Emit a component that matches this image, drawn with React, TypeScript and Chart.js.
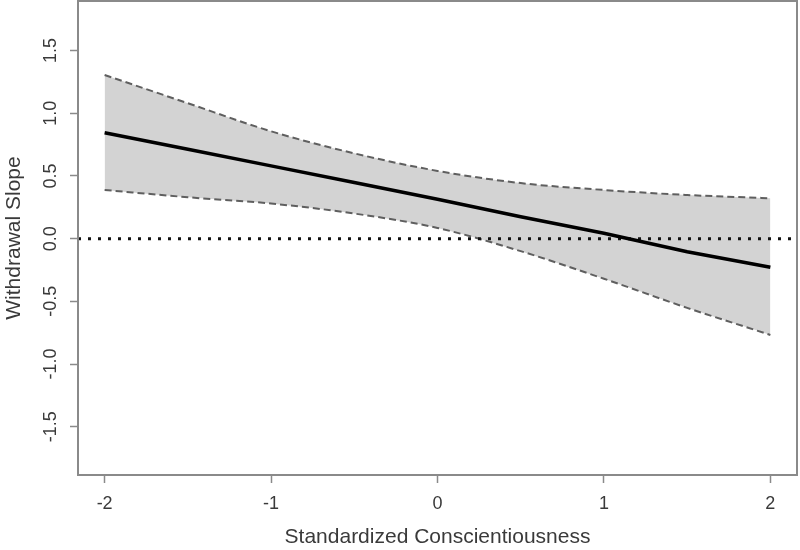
import React, { useEffect, useRef } from "react";
import { Chart, registerables } from "chart.js";

Chart.register(...registerables);

// Data
const xValues = [-2, -1.5, -1, -0.5, 0, 0.5, 1, 1.5, 2];
const slopeValues = [0.845, 0.713, 0.58, 0.447, 0.314, 0.175, 0.043, -0.104, -0.228];
const upperValues = [1.305, 1.08, 0.856, 0.68, 0.54, 0.443, 0.388, 0.348, 0.322];
const lowerValues = [0.388, 0.33, 0.28, 0.2, 0.085, -0.1, -0.32, -0.552, -0.768];
const zeroLineX = [-2.16, 2.16];
const zeroLineY = [0, 0];
const xTicks = [-2, -1, 0, 1, 2];
const yTicks = [-1.5, -1.0, -0.5, 0.0, 0.5, 1.0, 1.5];
const xTitle = "Standardized Conscientiousness";
const yTitle = "Withdrawal Slope";

const pts = (xs: number[], ys: number[]) => xs.map((x, i) => ({ x, y: ys[i] }));

const FONT = "'Liberation Sans', Arial, sans-serif";
const TXT = "#3a3a3a";
const FRAME = "#8a8a8a";

export default function App() {
  const ref = useRef<HTMLCanvasElement | null>(null);

  useEffect(() => {
    if (!ref.current) return;
    const boxPlugin = {
      id: "rbox",
      afterDraw(chart: any) {
        const { ctx, chartArea } = chart;
        ctx.save();
        ctx.strokeStyle = FRAME;
        ctx.lineWidth = 2;
        ctx.strokeRect(chartArea.left, chartArea.top, chartArea.right - chartArea.left, chartArea.bottom - chartArea.top);
        // rotated y tick labels
        const ys = chart.scales.y;
        ctx.fillStyle = TXT;
        ctx.font = `18px ${FONT}`;
        ctx.textAlign = "center";
        ctx.textBaseline = "middle";
        yTicks.forEach((v) => {
          const py = ys.getPixelForValue(v);
          ctx.save();
          ctx.translate(51, py);
          ctx.rotate(-Math.PI / 2);
          ctx.fillText(v.toFixed(1), 0, 0);
          ctx.restore();
        });
        ctx.restore();
      },
    };

    const chart = new Chart(ref.current, {
      type: "line",
      data: {
        datasets: [
          {
            label: "upper",
            data: pts(xValues, upperValues),
            borderColor: "#5f5f5f",
            borderWidth: 2,
            borderDash: [7, 4],
            backgroundColor: "#d3d3d3",
            fill: "+1",
            pointRadius: 0,
            cubicInterpolationMode: "monotone",
            order: 3,
          },
          {
            label: "lower",
            data: pts(xValues, lowerValues),
            borderColor: "#5f5f5f",
            borderWidth: 2,
            borderDash: [7, 4],
            fill: false,
            pointRadius: 0,
            cubicInterpolationMode: "monotone",
            order: 2,
          },
          {
            label: "zero",
            data: pts(zeroLineX, zeroLineY),
            borderColor: "#111",
            borderWidth: 3,
            borderDash: [3, 7],
            fill: false,
            pointRadius: 0,
            order: 1,
          },
          {
            label: "slope",
            data: pts(xValues, slopeValues),
            borderColor: "#000",
            borderWidth: 3.5,
            fill: false,
            pointRadius: 0,
            tension: 0,
            order: 0,
          },
        ],
      },
      options: {
        animation: false,
        responsive: false,
        events: [],
        layout: { padding: { top: 1, right: 3, left: 0, bottom: 0 } },
        plugins: { legend: { display: false }, tooltip: { enabled: false } },
        scales: {
          x: {
            type: "linear",
            min: -2.16,
            max: 2.16,
            afterBuildTicks: (s: any) => {
              s.ticks = xTicks.map((v) => ({ value: v }));
            },
            afterFit: (s: any) => {
              s.height = 75;
            },
            grid: { drawOnChartArea: false, tickLength: 8, tickColor: FRAME, tickWidth: 1.5 },
            border: { display: false },
            ticks: {
              color: TXT,
              font: { family: FONT, size: 18 },
              padding: 10,
              maxRotation: 0,
              autoSkip: false,
              callback: (v: any) => String(v),
            },
            title: {
              display: true,
              text: xTitle,
              color: TXT,
              font: { family: FONT, size: 21 },
              padding: { top: 0, bottom: 0 },
            },
          },
          y: {
            type: "linear",
            min: -1.885,
            max: 1.895,
            afterBuildTicks: (s: any) => {
              s.ticks = yTicks.map((v) => ({ value: v }));
            },
            afterFit: (s: any) => {
              s.width = 78;
            },
            grid: { drawOnChartArea: false, tickLength: 8, tickColor: FRAME, tickWidth: 1.5 },
            border: { display: false },
            ticks: { display: false },
            title: {
              display: true,
              text: yTitle,
              color: TXT,
              font: { family: FONT, size: 21 },
              padding: { top: 2, bottom: 0 },
            },
          },
        },
      },
      plugins: [boxPlugin],
    } as any);
    return () => chart.destroy();
  }, []);

  return (
    <div style={{ position: "absolute", left: 0, top: 0, width: 800, height: 550, background: "#fff" }}>
      <canvas ref={ref} width={800} height={550} />
    </div>
  );
}
